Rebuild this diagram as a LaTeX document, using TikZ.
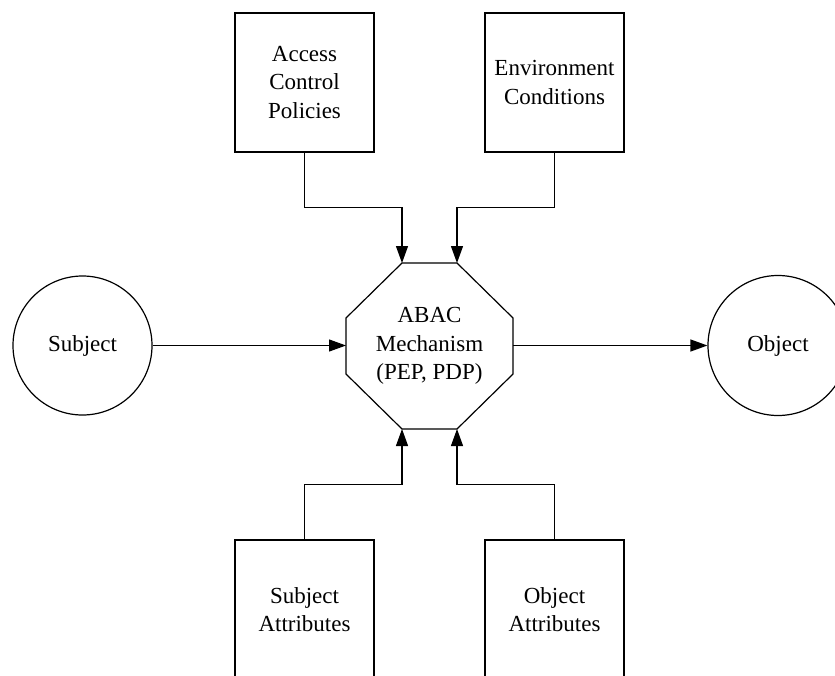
\documentclass[tikz,border=0pt]{standalone}
\usepackage{fontspec}
\setmainfont{Liberation Serif}
\usetikzlibrary{arrows.meta}
\begin{document}
\begin{tikzpicture}[x=1pt,y=-1pt,line width=1.2pt,
  lbl/.style={font=\fontsize{23}{28.5}\selectfont, align=center},
  box/.style={lbl, draw, minimum width=139pt, minimum height=139pt, inner sep=0pt},
  ent/.style={lbl, draw, circle, minimum size=139pt, inner sep=0pt},
  conn/.style={-{Triangle[length=17pt,width=12pt]}}]
\useasboundingbox (0,0) rectangle (835,675);
\clip (0,0) rectangle (835,675);
% boxes
\node[box] (acp) at (304.5,82.5) {Access\\Control\\Policies};
\node[box] (env) at (554.5,82.5) {Environment\\Conditions};
\node[box] (sa) at (304.5,609.5) {Subject\\Attributes};
\node[box] (oa) at (554.5,609.5) {Object\\Attributes};
% entities
\node[ent] (subj) at (82.5,345.5) {Subject};
\node[ent, minimum size=140pt] (obj) at (778,345.5) {Object};
% octagon
\coordinate (t1) at (402,263);
\coordinate (t2) at (457,263);
\coordinate (r2) at (513,318);
\coordinate (r3) at (513,374);
\coordinate (b2) at (457,429);
\coordinate (b1) at (402,429);
\coordinate (l3) at (346,374);
\coordinate (l2) at (346,318);
\coordinate (l1) at (346,345.5);
\coordinate (r1) at (513,345.5);
\draw (t1) -- (t2) -- (r2) -- (r3) -- (b2) -- (b1) -- (l3) -- (l2) -- cycle;
\node[lbl] (mech) at (429.5,346) {ABAC\\Mechanism\\(PEP, PDP)};
% connectors
\draw[conn] (acp.south) -- ++(0,55) -| (t1);
\draw[conn] (env.south) -- ++(0,55) -| (t2);
\draw[conn] (sa.north) -- ++(0,-55) -| (b1);
\draw[conn] (oa.north) -- ++(0,-55) -| (b2);
\draw[conn] (subj.east) -- (l1);
\draw[conn] (r1) -- (obj.west);
\end{tikzpicture}
\end{document}
